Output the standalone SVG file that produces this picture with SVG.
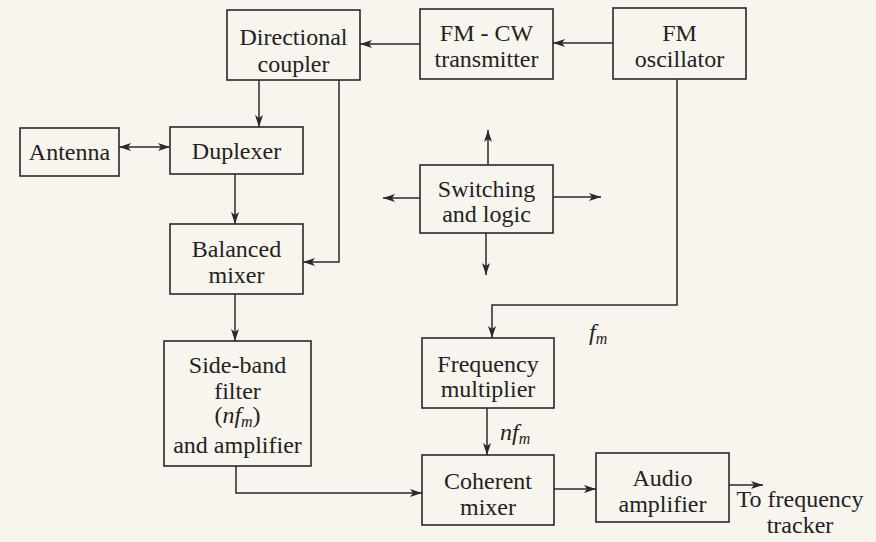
<svg xmlns="http://www.w3.org/2000/svg" width="876" height="542" viewBox="0 0 876 542">
<style>
.box{fill:none;stroke:#2a2a2a;stroke-width:1.6}
.t{font-family:"Liberation Serif","Times New Roman",serif;font-size:24px;fill:#222;text-anchor:middle}
.it{font-style:italic}
.c{fill:none;stroke:#2a2a2a;stroke-width:1.5}
</style>
<defs>
<marker id="ah" viewBox="0 0 12 8" refX="12" refY="4" markerWidth="12" markerHeight="8" markerUnits="userSpaceOnUse" orient="auto-start-reverse">
<path d="M0,0 L12,4 L0,8 L3,4 Z" fill="#2a2a2a"/>
</marker>
</defs>
<rect width="876" height="542" fill="#f8f5ee"/>

<g id="connectors">
<path class="c" d="M613,43 H553" marker-end="url(#ah)"/>
<path class="c" d="M420,44 H360" marker-end="url(#ah)"/>
<path class="c" d="M259,80 V127" marker-end="url(#ah)"/>
<path class="c" d="M339,80 V262 H303" marker-end="url(#ah)"/>
<path class="c" d="M119,147 H170" marker-start="url(#ah)" marker-end="url(#ah)"/>
<path class="c" d="M235,174 V224" marker-end="url(#ah)"/>
<path class="c" d="M235,294 V341" marker-end="url(#ah)"/>
<path class="c" d="M236,466 V493 H422" marker-end="url(#ah)"/>
<path class="c" d="M488,165 V130" marker-end="url(#ah)"/>
<path class="c" d="M420,198 H383" marker-end="url(#ah)"/>
<path class="c" d="M553,197 H601" marker-end="url(#ah)"/>
<path class="c" d="M486,233 V275" marker-end="url(#ah)"/>
<path class="c" d="M677,79 V305 H492 V338" marker-end="url(#ah)"/>
<path class="c" d="M487,408 V455" marker-end="url(#ah)"/>
<path class="c" d="M554,489 H596" marker-end="url(#ah)"/>
<path class="c" d="M729,485 H763" marker-end="url(#ah)"/>
</g>

<g id="directional-coupler">
<rect class="box" x="227" y="10" width="133" height="70"/>
<text class="t" x="293.5" y="45">Directional</text>
<text class="t" x="293.5" y="72">coupler</text>
</g>
<g id="fm-cw-transmitter">
<rect class="box" x="420" y="9" width="133" height="70"/>
<text class="t" x="486.5" y="41">FM - CW</text>
<text class="t" x="486.5" y="67">transmitter</text>
</g>
<g id="fm-oscillator">
<rect class="box" x="613" y="8" width="133" height="71"/>
<text class="t" x="679.5" y="41">FM</text>
<text class="t" x="679.5" y="67">oscillator</text>
</g>
<g id="antenna">
<rect class="box" x="20" y="128" width="99" height="48"/>
<text class="t" x="69.5" y="160">Antenna</text>
</g>
<g id="duplexer">
<rect class="box" x="170" y="127" width="133" height="47"/>
<text class="t" x="236.5" y="159">Duplexer</text>
</g>
<g id="switching-logic">
<rect class="box" x="420" y="165" width="133" height="68"/>
<text class="t" x="486.5" y="197">Switching</text>
<text class="t" x="486.5" y="222">and logic</text>
</g>
<g id="balanced-mixer">
<rect class="box" x="170" y="224" width="133" height="70"/>
<text class="t" x="236.5" y="257">Balanced</text>
<text class="t" x="236.5" y="283">mixer</text>
</g>
<g id="side-band-filter">
<rect class="box" x="164" y="341" width="147" height="125"/>
<text class="t" x="237.5" y="373">Side-band</text>
<text class="t" x="237.5" y="399">filter</text>
<text class="t" x="237.5" y="423">(<tspan class="it">nf</tspan><tspan class="it" font-size="16" dy="4">m</tspan><tspan dy="-4">)</tspan></text>
<text class="t" x="237.5" y="453">and amplifier</text>
</g>
<g id="frequency-multiplier">
<rect class="box" x="422" y="338" width="132" height="70"/>
<text class="t" x="488" y="372">Frequency</text>
<text class="t" x="488" y="397">multiplier</text>
</g>
<g id="coherent-mixer">
<rect class="box" x="422" y="455" width="132" height="70"/>
<text class="t" x="488" y="489">Coherent</text>
<text class="t" x="488" y="515">mixer</text>
</g>
<g id="audio-amplifier">
<rect class="box" x="596" y="453" width="133" height="69"/>
<text class="t" x="662.5" y="486">Audio</text>
<text class="t" x="662.5" y="512">amplifier</text>
</g>
<g id="labels">
<text class="t" x="589" y="340" style="text-anchor:start"><tspan class="it">f</tspan><tspan class="it" font-size="16" dy="4">m</tspan></text>
<text class="t" x="500" y="440" style="text-anchor:start"><tspan class="it">nf</tspan><tspan class="it" font-size="16" dy="4">m</tspan></text>
<text class="t" x="800" y="507">To frequency</text>
<text class="t" x="800" y="533">tracker</text>
</g>
</svg>
